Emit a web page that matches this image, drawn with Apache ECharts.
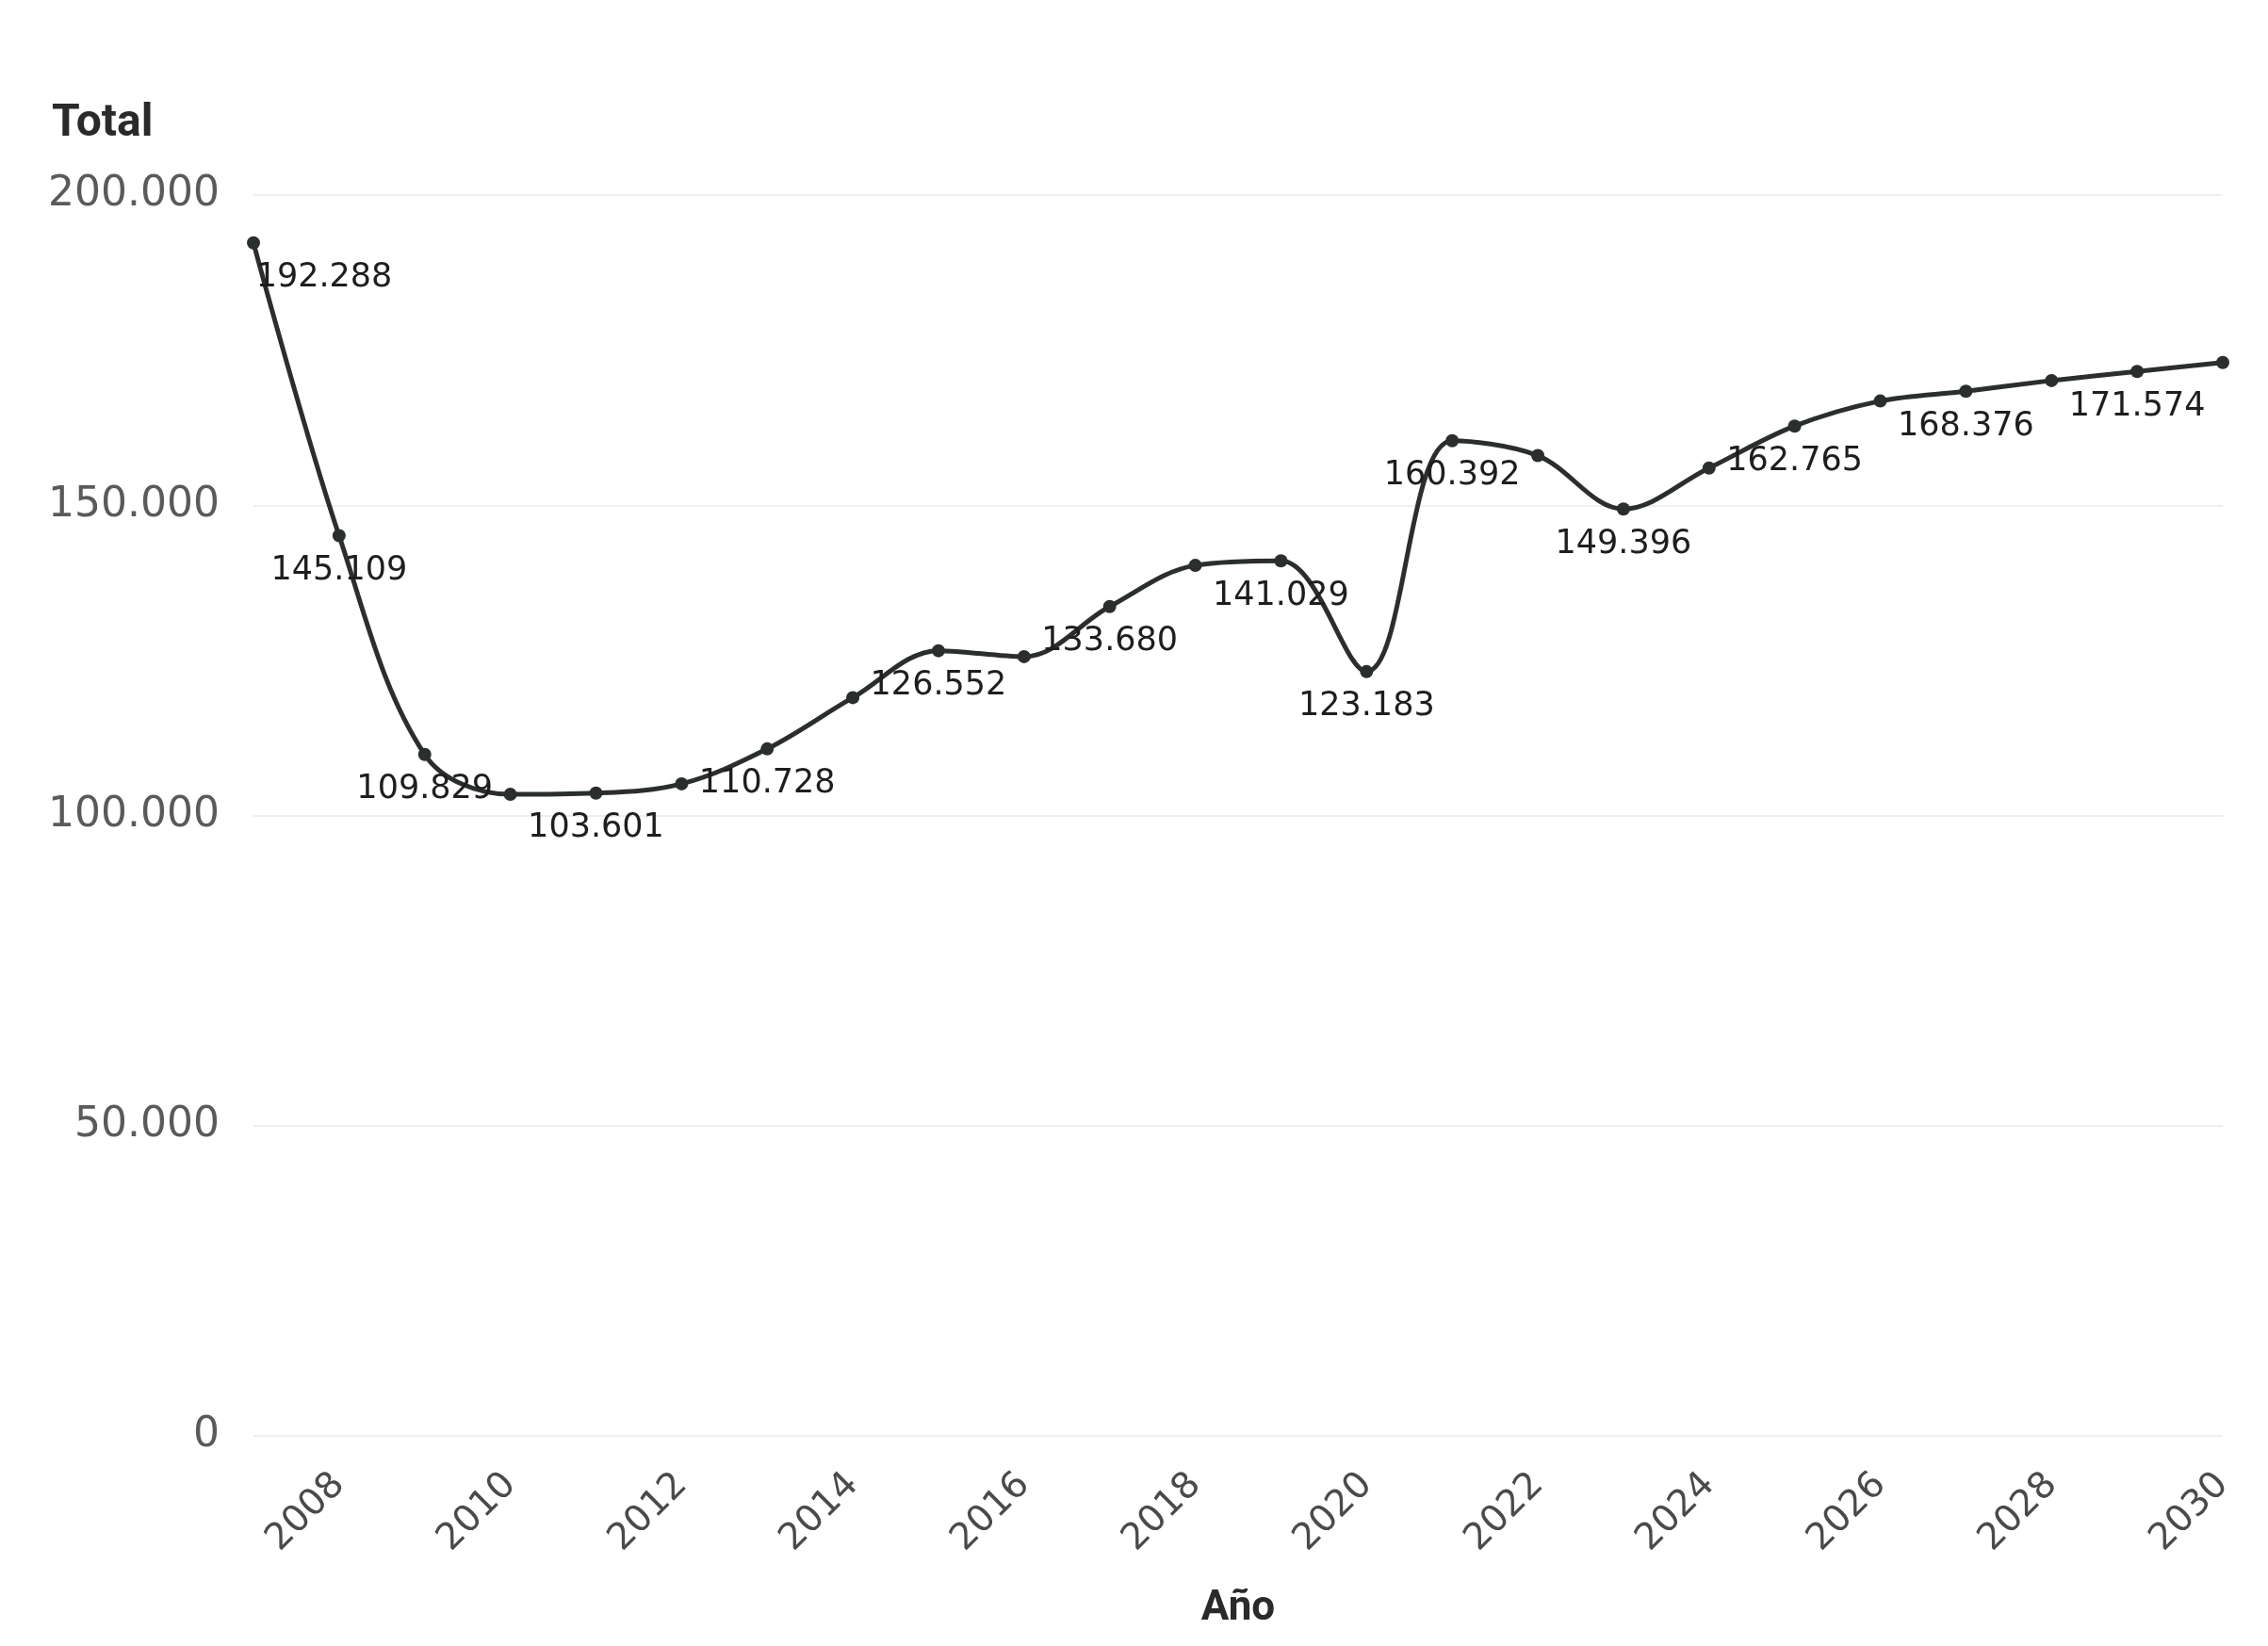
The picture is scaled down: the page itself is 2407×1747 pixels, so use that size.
<!DOCTYPE html>
<html>
<head>
<meta charset="utf-8">
<script src="https://cdn.jsdelivr.net/npm/echarts@6/dist/echarts.min.js"></script>
<style>
html,body{margin:0;padding:0;background:#ffffff;}
#chart{width:2407px;height:1747px;}
</style>
</head>
<body>
<div id="chart"></div>
<script>
const years = ['2007','2008','2009','2010','2011','2012','2013','2014','2015','2016','2017','2018','2019','2020','2021','2022','2023','2024','2025','2026','2027','2028','2029','2030'];
const totals = [192288,145109,109829,103400,103601,105100,110728,119000,126552,125600,133680,140300,141029,123183,160392,158000,149396,156000,162765,166800,168376,170100,171574,173000];
const labeledYears = ['2007','2008','2009','2011','2013','2015','2017','2019','2020','2021','2023','2025','2027','2029'];
const yTicks = [0, 50000, 100000, 150000, 200000];

function fmt(v){ return String(v).replace(/\B(?=(\d{3})+(?!\d))/g, '.'); }

const seriesData = totals.map((v, i) => {
  const item = { value: v, label: { show: labeledYears.indexOf(years[i]) >= 0 } };
  if (i === 0) item.label.offset = [75, 0];
  return item;
});

const chart = echarts.init(document.getElementById('chart'), null, {renderer: 'canvas'});
chart.setOption({
  backgroundColor: '#ffffff',
  animation: false,
  title: {
    text: 'Total', left: 50, top: 103,
    textStyle: { fontFamily: 'Roboto', fontWeight: 'bold', fontSize: 48, color: '#2a2a2a' }
  },
  grid: { left: 269, right: 48, top: 207, bottom: 223, containLabel: false },
  xAxis: {
    type: 'category',
    data: years,
    boundaryGap: false,
    name: 'Año',
    nameLocation: 'middle',
    nameGap: 162,
    nameTextStyle: { fontFamily: 'Roboto', fontWeight: 'bold', fontSize: 44, color: '#2a2a2a' },
    axisLine: { show: false },
    axisTick: { show: false },
    axisLabel: {
      rotate: 45,
      margin: 46,
      fontFamily: 'DejaVu Sans',
      fontSize: 39,
      color: '#4a4a4a',
      interval: function (idx) { return idx % 2 === 1; }
    },
    splitLine: { show: false }
  },
  yAxis: {
    type: 'value',
    min: yTicks[0],
    max: yTicks[yTicks.length - 1],
    interval: yTicks[1] - yTicks[0],
    axisLine: { show: false },
    axisTick: { show: false },
    axisLabel: {
      margin: 36,
      fontFamily: 'DejaVu Sans',
      fontSize: 44,
      color: '#5a5a5a',
      formatter: function (v) { return fmt(v); }
    },
    splitLine: { show: true, lineStyle: { color: '#eeeeee', width: 2 } }
  },
  series: [{
    type: 'line',
    data: seriesData,
    smooth: 0.35,
    symbol: 'circle',
    symbolSize: 14,
    lineStyle: { color: '#2b2f2c', width: 5 },
    itemStyle: { color: '#2b2f2c' },
    label: {
      position: 'bottom',
      distance: 13,
      fontFamily: 'DejaVu Sans',
      fontSize: 35,
      color: '#1e1e1e',
      formatter: function (p) { return fmt(p.value); }
    }
  }]
});
</script>
</body>
</html>
